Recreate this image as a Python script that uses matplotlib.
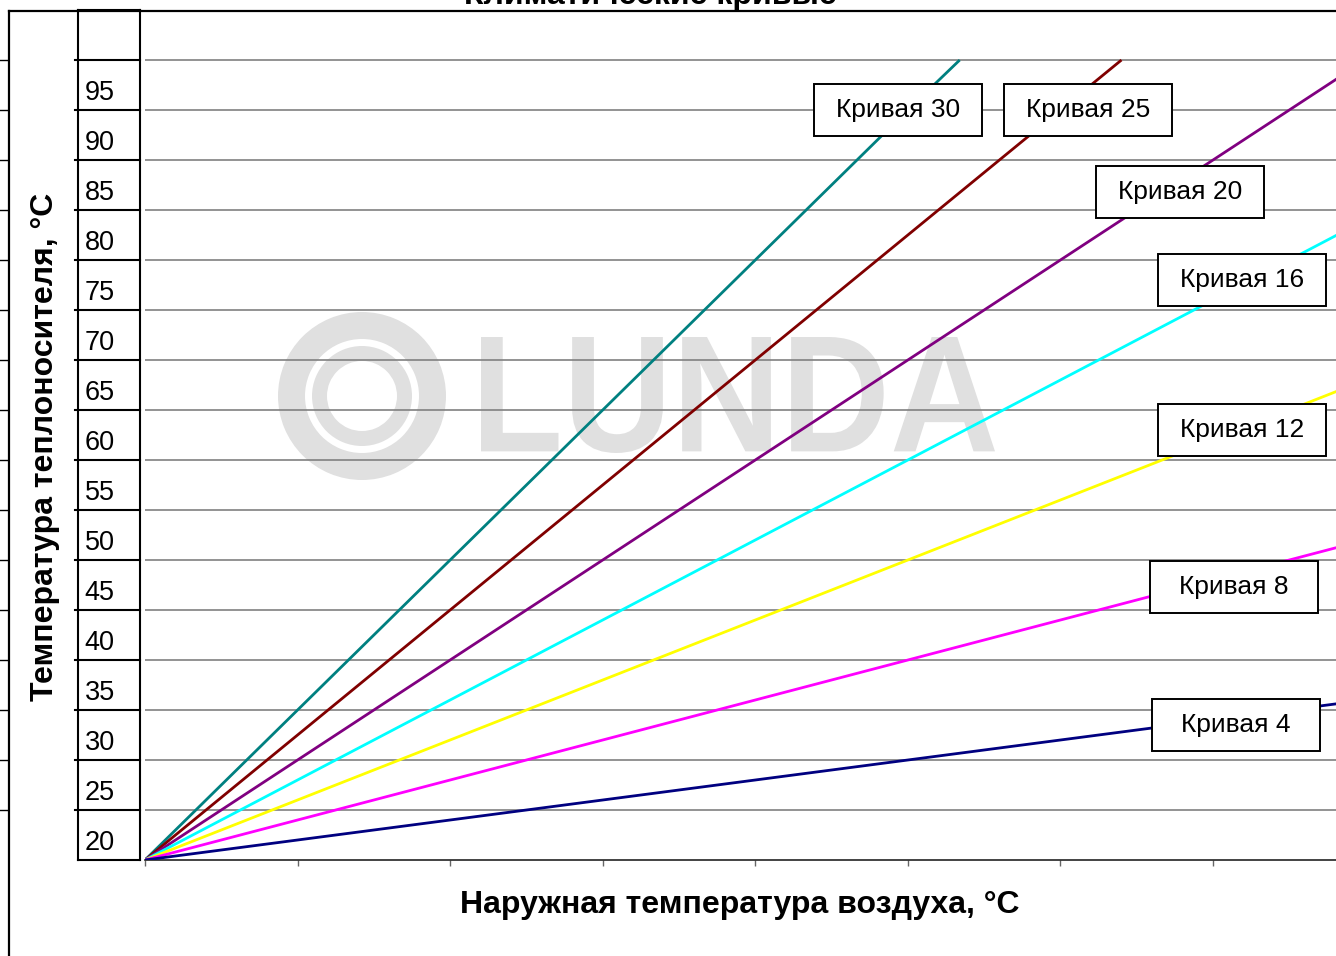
import matplotlib
matplotlib.use("Agg")
import matplotlib.pyplot as plt
from matplotlib.patches import Rectangle, PathPatch, Annulus
from matplotlib.lines import Line2D
from matplotlib.textpath import TextPath
from matplotlib.font_manager import FontProperties
from matplotlib.transforms import Affine2D, IdentityTransform, blended_transform_factory

plt.rcParams['font.family'] = ['Liberation Sans', 'DejaVu Sans']

# ---------------- data ----------------
title = "Климатические кривые"
xlabel = "Наружная температура воздуха, °C"
ylabel = "Температура теплоносителя, °C"

outdoor = [20, 15, 10, 5, 0, -5, -10, -15, -20]
y_levels = [20, 25, 30, 35, 40, 45, 50, 55, 60, 65, 70, 75, 80, 85, 90, 95, 100]
y_labels = ["20", "25", "30", "35", "40", "45", "50", "55", "60", "65",
            "70", "75", "80", "85", "90", "95"]

curve4_x = [20, 15, 10, 5, 0, -5, -10, -15, -20]
curve4_y = [20, 22, 24, 26, 28, 30, 32, 34, 36]
curve8_x = [20, 15, 10, 5, 0, -5, -10, -15, -20]
curve8_y = [20, 24, 28, 32, 36, 40, 44, 48, 52]
curve12_x = [20, 15, 10, 5, 0, -5, -10, -15, -20]
curve12_y = [20, 26, 32, 38, 44, 50, 56, 62, 68]
curve16_x = [20, 15, 10, 5, 0, -5, -10, -15, -20]
curve16_y = [20, 28, 36, 44, 52, 60, 68, 76, 84]
curve20_x = [20, 15, 10, 5, 0, -5, -10, -15, -20]
curve20_y = [20, 30, 40, 50, 60, 70, 80, 90, 100]
curve25_x = [20, 15, 10, 5, 0, -5, -10, -12]
curve25_y = [20, 32.5, 45, 57.5, 70, 82.5, 95, 100]
curve30_x = [20, 15, 10, 5, 0, -5, -6.7]
curve30_y = [20, 35, 50, 65, 80, 95, 100]

curve_names = ["Кривая 30", "Кривая 25", "Кривая 20", "Кривая 16",
               "Кривая 12", "Кривая 8", "Кривая 4"]
curve_colors = ["#008080", "#800000", "#800080", "#00FFFF",
                "#FFFF00", "#FF00FF", "#000080"]
curves = [(curve30_x, curve30_y), (curve25_x, curve25_y), (curve20_x, curve20_y),
          (curve16_x, curve16_y), (curve12_x, curve12_y), (curve8_x, curve8_y),
          (curve4_x, curve4_y)]

# ---------------- layout ----------------
W, H = 1336, 956
fig = plt.figure(figsize=(W / 100, H / 100), dpi=100)
fig.patch.set_facecolor("white")

def fx(px):
    return px / W

def fy(py):
    return 1 - py / H

ax = fig.add_axes([fx(145), fy(860), fx(1336) - fx(145), (860 - 10) / H])
axc = fig.add_axes([fx(78), fy(860), fx(140) - fx(78), (860 - 10) / H])

# watermark
wm_color = "#e0e0e0"
ax.add_patch(Annulus((362, H - 396), 84, 27, transform=IdentityTransform(),
                     fc=wm_color, ec="none", zorder=0.8))
ax.add_patch(Annulus((362, H - 396), 50, 15, transform=IdentityTransform(),
                     fc=wm_color, ec="none", zorder=0.8))
tp = TextPath((0, 0), "LUNDA", size=100,
              prop=FontProperties(family="Liberation Sans", weight="bold"))
bb = tp.get_extents()
tr = (Affine2D().translate(-bb.x0, -bb.y0)
      .scale((995 - 481) / bb.width, (453 - 337) / bb.height)
      .translate(481, H - 453))
ax.add_patch(PathPatch(tp, transform=tr, fc=wm_color, ec="none", zorder=0.8))

# gridlines
for lvl in y_levels[1:]:
    ax.axhline(lvl, color="#808080", lw=1.2, zorder=1)

# curves
for (xs, ys), col in zip(curves, curve_colors):
    ax.plot(xs, ys, color=col, lw=2.0, zorder=3, solid_capstyle="butt")

# label boxes
label_pos = [(-4.68, 95.0), (-10.90, 95.0), (-13.92, 86.8), (-15.95, 78.0),
             (-15.95, 63.0), (-15.69, 47.3), (-15.75, 33.5)]
bw, bh = 5.5, 5.2
for name, (cx, cy) in zip(curve_names, label_pos):
    ax.add_patch(Rectangle((cx - bw / 2, cy - bh / 2), bw, bh, fc="white",
                           ec="black", lw=1.4, zorder=5))
    ax.text(cx, cy, name, ha="center", va="center", fontsize=19, zorder=6)

ax.set_xticks(outdoor)
ax.set_yticks([])
ax.set_xlim(20, -19.03)
ax.set_ylim(20, 105)
ax.tick_params(axis="x", direction="out", length=4.5, width=1.0,
               color="#666666", labelbottom=False)
for s in ["left", "top", "right"]:
    ax.spines[s].set_visible(False)
ax.spines["bottom"].set_color("#222222")
ax.spines["bottom"].set_linewidth(1.2)

# label column
axc.set_xticks([])
axc.set_yticks([])
axc.set_xlim(0, 1)
axc.set_ylim(20, 105)
for s in axc.spines.values():
    s.set_color("black")
    s.set_linewidth(1.5)
btr = blended_transform_factory(axc.transAxes, axc.transData)
for lvl in y_levels[1:]:
    axc.plot([-0.05, 1], [lvl, lvl], color="black", lw=1.5, transform=btr,
             clip_on=False)
    axc.plot([-78 / 62, -70 / 62], [lvl, lvl], color="black", lw=1.0,
             transform=btr, clip_on=False)
for lvl, lab in zip(y_levels, y_labels):
    axc.text(0.11, lvl + 1.0, lab, transform=btr, ha="left", va="baseline",
             fontsize=19.5)

# frame lines
fig.add_artist(Line2D([fx(8.5), 1], [fy(11), fy(11)], transform=fig.transFigure,
                      color="black", lw=1.6))
fig.add_artist(Line2D([fx(8.5), fx(8.5)], [fy(11), 0], transform=fig.transFigure,
                      color="black", lw=1.6))

# texts
fig.text(fx(650), fy(4), title, ha="center", va="baseline", fontsize=23,
         fontweight="bold")
fig.text(fx(740), fy(905), xlabel, ha="center", va="center", fontsize=23,
         fontweight="bold")
fig.text(fx(45), fy(447), ylabel, ha="center", va="center", rotation=90,
         fontsize=23, fontweight="bold")

fig.savefig("out.png", dpi=100)
